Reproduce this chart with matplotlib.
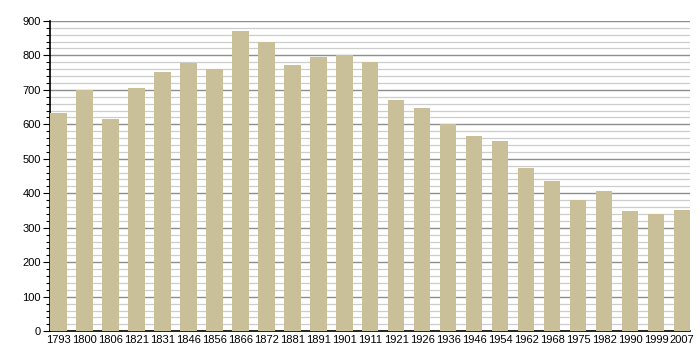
import matplotlib.pyplot as plt
from matplotlib.ticker import MultipleLocator

years = ["1793", "1800", "1806", "1821", "1831", "1846", "1856", "1866",
         "1872", "1881", "1891", "1901", "1911", "1921", "1926", "1936",
         "1946", "1954", "1962", "1968", "1975", "1982", "1990", "1999", "2007"]
population = [632, 700, 615, 705, 751, 778, 760, 871,
              840, 772, 795, 800, 780, 670, 647, 600,
              566, 551, 472, 435, 380, 406, 348, 341, 351]


def main():
    plt.rcParams["font.family"] = ["Liberation Sans", "DejaVu Sans"]

    fig = plt.figure(figsize=(7, 3.6), dpi=100)
    ax = fig.add_axes([0.072, 0.08, 0.914, 0.862])

    x = list(range(len(years)))
    w = 0.63
    ax.bar(x, population, width=w, color="#c9bf98", zorder=3)

    ax.set_xlim(-w / 2, len(years) - 1 + w / 2)
    ax.set_ylim(0, 900)

    # major lines every 100, lighter ones every 20
    ax.yaxis.set_major_locator(MultipleLocator(100))
    ax.yaxis.set_minor_locator(MultipleLocator(20))
    ax.grid(axis="y", which="major", color="#8e8e8e", linewidth=1.0, zorder=1)
    ax.grid(axis="y", which="minor", color="#cdcdcd", linewidth=0.9, zorder=1)

    ax.set_xticks(x)
    ax.set_xticklabels(years, fontsize=8)
    ax.tick_params(axis="x", length=0, pad=3)
    ax.tick_params(axis="y", which="major", length=5, width=0.8, labelsize=8, pad=2)
    ax.tick_params(axis="y", which="minor", length=3, width=0.8)

    for side in ["top", "right"]:
        ax.spines[side].set_visible(False)
    ax.spines["left"].set_linewidth(1.2)
    ax.spines["bottom"].set_linewidth(1.2)

    fig.savefig("out.png", dpi=100)


if __name__ == "__main__":
    main()
